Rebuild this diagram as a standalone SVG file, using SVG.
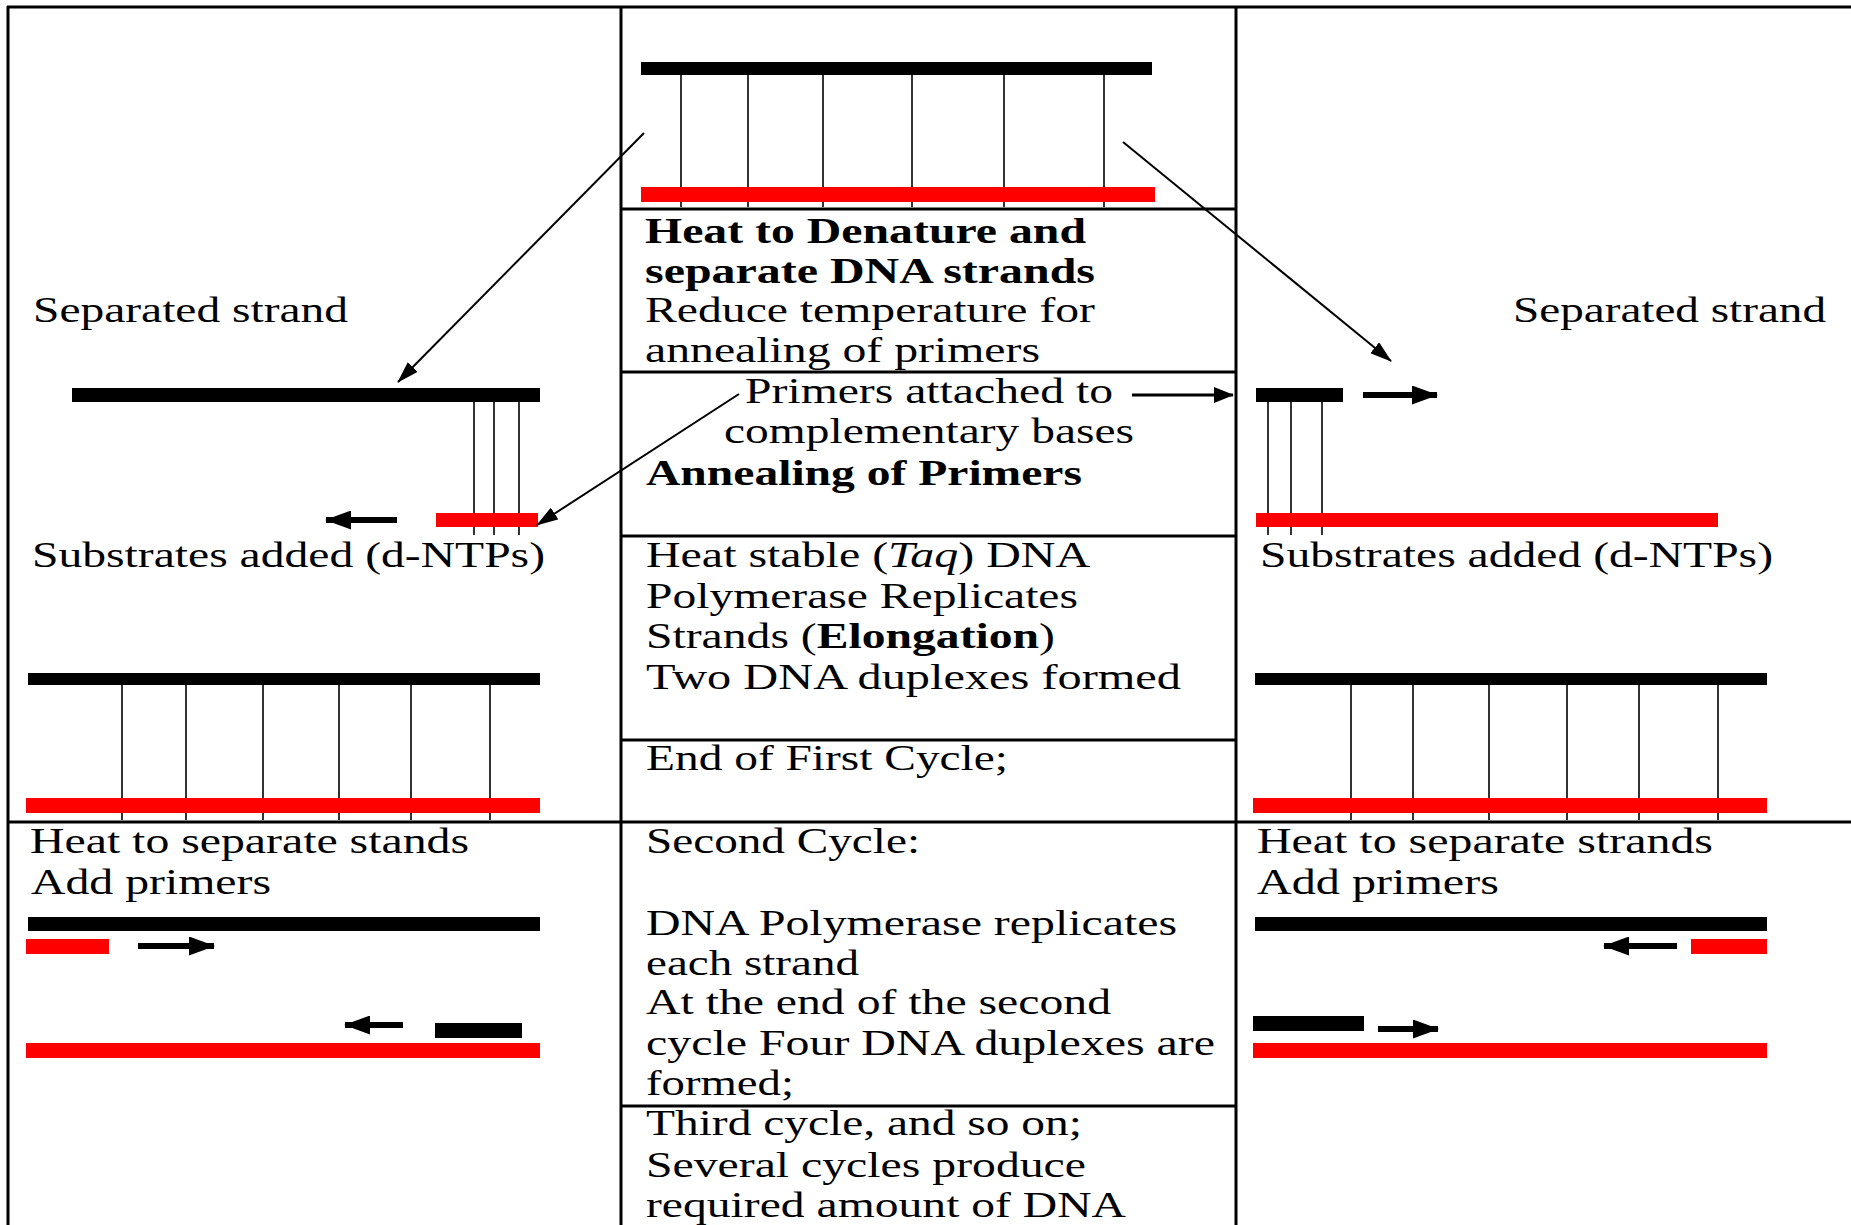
<svg xmlns="http://www.w3.org/2000/svg" width="1851" height="1225" viewBox="0 0 1851 1225">
<style>
.t{font-family:"Liberation Serif","Times New Roman",serif;font-size:36px;fill:#000}
.b{font-weight:bold}
.grid{stroke:#000;stroke-width:3;fill:none}
.blk{fill:#000}
.red{fill:#ff0000}
.rung{stroke:#333;stroke-width:2}
.thin{stroke:#000;stroke-width:2;fill:none}
.mid{stroke:#000;stroke-width:3;fill:none}
.thick{stroke:#000;stroke-width:6;fill:none}
</style>
<defs>
<marker id="ahThin" markerUnits="userSpaceOnUse" markerWidth="22" markerHeight="14" refX="21" refY="7" orient="auto">
<path d="M0,0 L22,7 L0,14 z" fill="#000"/>
</marker>
<marker id="ahMid" markerUnits="userSpaceOnUse" markerWidth="20" markerHeight="16" refX="19" refY="8" orient="auto">
<path d="M0,0 L20,8 L0,16 z" fill="#000"/>
</marker>
<marker id="ahThick" markerUnits="userSpaceOnUse" markerWidth="26" markerHeight="19" refX="25" refY="9.5" orient="auto">
<path d="M0,0 L26,9.5 L0,19 z" fill="#000"/>
</marker>
</defs>
<rect width="1851" height="1225" fill="#fff"/>

<g id="table" class="grid">
<line x1="7" y1="7" x2="1851" y2="7"/>
<line x1="8" y1="6" x2="8" y2="1225"/>
<line x1="621" y1="6" x2="621" y2="1225"/>
<line x1="1236" y1="6" x2="1236" y2="1225"/>
<line x1="8" y1="822" x2="1851" y2="822"/>
<line x1="621" y1="209" x2="1236" y2="209"/>
<line x1="621" y1="372" x2="1236" y2="372"/>
<line x1="621" y1="536" x2="1236" y2="536"/>
<line x1="621" y1="740" x2="1236" y2="740"/>
<line x1="621" y1="1106" x2="1236" y2="1106"/>
</g>

<g id="dna-top">
<g class="rung">
<line x1="681" y1="75" x2="681" y2="207"/>
<line x1="748" y1="75" x2="748" y2="207"/>
<line x1="823" y1="75" x2="823" y2="207"/>
<line x1="912" y1="75" x2="912" y2="207"/>
<line x1="1004" y1="75" x2="1004" y2="207"/>
<line x1="1104" y1="75" x2="1104" y2="207"/>
</g>
<rect class="blk" x="641" y="62" width="511" height="13"/>
<rect class="red" x="641" y="187" width="514" height="15"/>
</g>

<g id="step-denature">
<text class="t b" x="645" y="243" textLength="441" lengthAdjust="spacingAndGlyphs">Heat to Denature and</text>
<text class="t b" x="645" y="283" textLength="450" lengthAdjust="spacingAndGlyphs">separate DNA strands</text>
<text class="t" x="645" y="322" textLength="450" lengthAdjust="spacingAndGlyphs">Reduce temperature for</text>
<text class="t" x="645" y="362" textLength="395" lengthAdjust="spacingAndGlyphs">annealing of primers</text>
</g>

<g id="step-annealing">
<text class="t" x="745" y="403" textLength="368" lengthAdjust="spacingAndGlyphs">Primers attached to</text>
<text class="t" x="724" y="443" textLength="410" lengthAdjust="spacingAndGlyphs">complementary bases</text>
<text class="t b" x="646" y="485" textLength="436" lengthAdjust="spacingAndGlyphs">Annealing of Primers</text>
</g>

<g id="step-elongation">
<text class="t" x="646" y="567" textLength="444" lengthAdjust="spacingAndGlyphs">Heat stable (<tspan font-style="italic">Taq</tspan>) DNA</text>
<text class="t" x="646" y="608" textLength="432" lengthAdjust="spacingAndGlyphs">Polymerase Replicates</text>
<text class="t" x="646" y="648" textLength="409" lengthAdjust="spacingAndGlyphs">Strands (<tspan font-weight="bold">Elongation</tspan>)</text>
<text class="t" x="646" y="689" textLength="535" lengthAdjust="spacingAndGlyphs">Two DNA duplexes formed</text>
</g>

<g id="step-end-first">
<text class="t" x="646" y="770" textLength="362" lengthAdjust="spacingAndGlyphs">End of First Cycle;</text>
</g>

<g id="step-second">
<text class="t" x="646" y="853" textLength="274" lengthAdjust="spacingAndGlyphs">Second Cycle:</text>
<text class="t" x="646" y="935" textLength="531" lengthAdjust="spacingAndGlyphs">DNA Polymerase replicates</text>
<text class="t" x="646" y="975" textLength="213" lengthAdjust="spacingAndGlyphs">each strand</text>
<text class="t" x="646" y="1014" textLength="465" lengthAdjust="spacingAndGlyphs">At the end of the second</text>
<text class="t" x="646" y="1055" textLength="569" lengthAdjust="spacingAndGlyphs">cycle Four DNA duplexes are</text>
<text class="t" x="646" y="1095" textLength="148" lengthAdjust="spacingAndGlyphs">formed;</text>
</g>

<g id="step-third">
<text class="t" x="646" y="1135" textLength="436" lengthAdjust="spacingAndGlyphs">Third cycle, and so on;</text>
<text class="t" x="646" y="1177" textLength="440" lengthAdjust="spacingAndGlyphs">Several cycles produce</text>
<text class="t" x="646" y="1217" textLength="480" lengthAdjust="spacingAndGlyphs">required amount of DNA</text>
</g>

<g id="left-separated">
<text class="t" x="33" y="322" textLength="315" lengthAdjust="spacingAndGlyphs">Separated strand</text>
<g class="rung">
<line x1="474" y1="402" x2="474" y2="535"/>
<line x1="494" y1="402" x2="494" y2="535"/>
<line x1="519" y1="402" x2="519" y2="535"/>
</g>
<rect class="blk" x="72" y="388" width="468" height="14"/>
<rect class="red" x="436" y="513" width="102" height="14"/>
<line class="thick" x1="397" y1="520" x2="326" y2="520" marker-end="url(#ahThick)"/>
<text class="t" x="32" y="567" textLength="513" lengthAdjust="spacingAndGlyphs">Substrates added (d-NTPs)</text>
</g>

<g id="right-separated">
<text class="t" x="1513" y="322" textLength="313" lengthAdjust="spacingAndGlyphs">Separated strand</text>
<g class="rung">
<line x1="1268" y1="402" x2="1268" y2="535"/>
<line x1="1291" y1="402" x2="1291" y2="535"/>
<line x1="1322" y1="402" x2="1322" y2="535"/>
</g>
<rect class="blk" x="1256" y="388" width="87" height="14"/>
<line class="thick" x1="1363" y1="395" x2="1437" y2="395" marker-end="url(#ahThick)"/>
<rect class="red" x="1256" y="513" width="462" height="14"/>
<text class="t" x="1260" y="567" textLength="513" lengthAdjust="spacingAndGlyphs">Substrates added (d-NTPs)</text>
</g>

<g id="left-duplex">
<g class="rung">
<line x1="122" y1="685" x2="122" y2="820"/>
<line x1="186" y1="685" x2="186" y2="820"/>
<line x1="263" y1="685" x2="263" y2="820"/>
<line x1="339" y1="685" x2="339" y2="820"/>
<line x1="411" y1="685" x2="411" y2="820"/>
<line x1="490" y1="685" x2="490" y2="820"/>
</g>
<rect class="blk" x="28" y="673" width="512" height="12"/>
<rect class="red" x="26" y="798" width="514" height="15"/>
</g>

<g id="right-duplex">
<g class="rung">
<line x1="1351" y1="685" x2="1351" y2="820"/>
<line x1="1413" y1="685" x2="1413" y2="820"/>
<line x1="1489" y1="685" x2="1489" y2="820"/>
<line x1="1567" y1="685" x2="1567" y2="820"/>
<line x1="1639" y1="685" x2="1639" y2="820"/>
<line x1="1718" y1="685" x2="1718" y2="820"/>
</g>
<rect class="blk" x="1255" y="673" width="512" height="12"/>
<rect class="red" x="1253" y="798" width="514" height="15"/>
</g>

<g id="left-second">
<text class="t" x="30" y="853" textLength="439" lengthAdjust="spacingAndGlyphs">Heat to separate stands</text>
<text class="t" x="31" y="894" textLength="240" lengthAdjust="spacingAndGlyphs">Add primers</text>
<rect class="blk" x="28" y="917" width="512" height="14"/>
<rect class="red" x="26" y="939" width="83" height="15"/>
<line class="thick" x1="138" y1="946" x2="214" y2="946" marker-end="url(#ahThick)"/>
<line class="thick" x1="403" y1="1025" x2="345" y2="1025" marker-end="url(#ahThick)"/>
<rect class="blk" x="435" y="1023" width="87" height="15"/>
<rect class="red" x="26" y="1043" width="514" height="15"/>
</g>

<g id="right-second">
<text class="t" x="1257" y="853" textLength="456" lengthAdjust="spacingAndGlyphs">Heat to separate strands</text>
<text class="t" x="1257" y="894" textLength="242" lengthAdjust="spacingAndGlyphs">Add primers</text>
<rect class="blk" x="1255" y="917" width="512" height="14"/>
<line class="thick" x1="1677" y1="946" x2="1604" y2="946" marker-end="url(#ahThick)"/>
<rect class="red" x="1691" y="939" width="76" height="15"/>
<rect class="blk" x="1253" y="1016" width="111" height="15"/>
<line class="thick" x1="1378" y1="1029" x2="1438" y2="1029" marker-end="url(#ahThick)"/>
<rect class="red" x="1253" y="1043" width="514" height="15"/>
</g>

<g id="connectors">
<line class="thin" x1="644" y1="133" x2="398" y2="382" marker-end="url(#ahThin)"/>
<line class="thin" x1="1123" y1="142" x2="1391" y2="361" marker-end="url(#ahThin)"/>
<line class="thin" x1="739" y1="394" x2="537" y2="525" marker-end="url(#ahThin)"/>
<line class="mid" x1="1132" y1="395" x2="1233" y2="395" marker-end="url(#ahMid)"/>
</g>
</svg>
